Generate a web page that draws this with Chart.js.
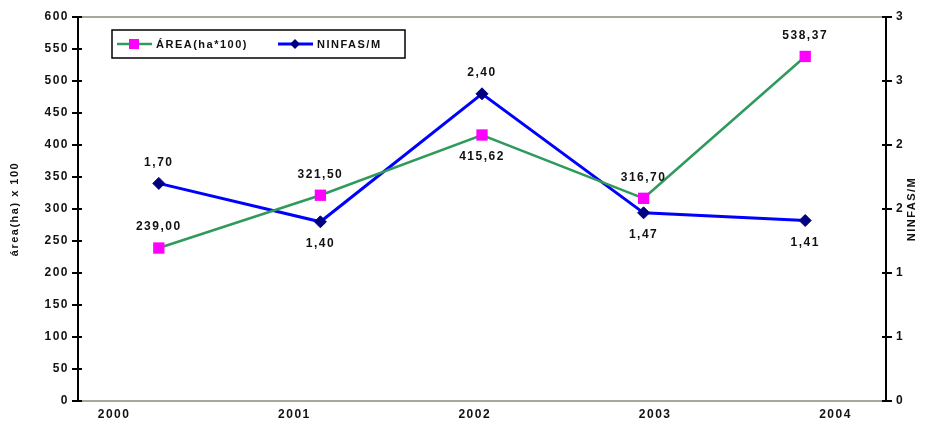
<!DOCTYPE html>
<html>
<head>
<meta charset="utf-8">
<script src="https://cdn.jsdelivr.net/npm/chart.js@4.4.0/dist/chart.umd.min.js"></script>
<style>
  html, body { margin: 0; padding: 0; background: #fff; }
  #wrap { width: 925px; height: 426px; }
</style>
</head>
<body>
<div id="wrap"><canvas id="grafico"></canvas></div>
<script>
const anos = ["2000", "2001", "2002", "2003", "2004"];
const area = [239.0, 321.5, 415.62, 316.7, 538.37];
const ninfas = [1.70, 1.40, 2.40, 1.47, 1.41];
// onde fica o rótulo de cada ponto
const posArea = ["above", "above", "below", "above", "above"];
const posNinfas = ["above", "below", "above", "below", "below"];

const FONTE = "'Liberation Sans', Arial, sans-serif";
const fmt = (v) => v.toFixed(2).replace(".", ",");

const espacamento = {
  id: "espacamento",
  beforeDraw(chart) {
    chart.ctx.letterSpacing = "1.5px";
  },
};

const rotulos = {
  id: "rotulos",
  afterDatasetsDraw(chart) {
    const ctx = chart.ctx;
    ctx.save();
    ctx.font = "bold 12px " + FONTE;
    ctx.fillStyle = "#111";
    ctx.textAlign = "center";
    ctx.textBaseline = "middle";
    chart.data.datasets.forEach((ds, di) => {
      chart.getDatasetMeta(di).data.forEach((pt, i) => {
        const dy = ds.posicoes[i] === "above" ? -21 : 22;
        ctx.fillText(fmt(ds.data[i]), pt.x, pt.y + dy);
      });
    });
    ctx.restore();
  },
};

const extras = {
  id: "extras",
  afterDraw(chart) {
    const ctx = chart.ctx,
      a = chart.chartArea;
    ctx.save();
    // linha de cima da área do gráfico
    ctx.strokeStyle = "#a8a898";
    ctx.lineWidth = 2;
    ctx.beginPath();
    ctx.moveTo(a.left, a.top);
    ctx.lineTo(a.right, a.top);
    ctx.stroke();

    // marcas dos eixos também para dentro
    ctx.strokeStyle = "#000";
    ctx.beginPath();
    chart.scales.y.ticks.forEach((t) => {
      const py = chart.scales.y.getPixelForValue(t.value);
      ctx.moveTo(a.left, py);
      ctx.lineTo(a.left + 4, py);
    });
    chart.scales.y1.ticks.forEach((t) => {
      const py = chart.scales.y1.getPixelForValue(t.value);
      ctx.moveTo(a.right - 4, py);
      ctx.lineTo(a.right, py);
    });
    ctx.stroke();

    // legenda
    const x0 = a.left + 34,
      y0 = a.top + 13,
      w = 293,
      h = 28,
      yc = y0 + h / 2,
      inicios = [5, 166];
    ctx.fillStyle = "#fff";
    ctx.fillRect(x0, y0, w, h);
    ctx.strokeStyle = "#000";
    ctx.lineWidth = 1.5;
    ctx.strokeRect(x0, y0, w, h);
    chart.data.datasets.forEach((ds, i) => {
      const xs = x0 + inicios[i],
        xm = xs + 17;
      ctx.strokeStyle = ds.borderColor;
      ctx.lineWidth = ds.borderWidth;
      ctx.beginPath();
      ctx.moveTo(xs, yc);
      ctx.lineTo(xs + 35, yc);
      ctx.stroke();
      ctx.fillStyle = ds.pointBackgroundColor;
      if (ds.pointStyle === "rect") {
        ctx.fillRect(xm - 5, yc - 5, 10, 10);
      } else {
        ctx.beginPath();
        ctx.moveTo(xm, yc - 5);
        ctx.lineTo(xm + 5, yc);
        ctx.lineTo(xm, yc + 5);
        ctx.lineTo(xm - 5, yc);
        ctx.closePath();
        ctx.fill();
      }
      ctx.fillStyle = "#111";
      ctx.font = "bold 11px " + FONTE;
      ctx.textAlign = "left";
      ctx.textBaseline = "middle";
      ctx.fillText(ds.label, xs + 39, yc + 1);
    });

    // título do eixo da direita
    ctx.translate(912, (a.top + a.bottom) / 2);
    ctx.rotate(-Math.PI / 2);
    ctx.font = "bold 11px " + FONTE;
    ctx.fillStyle = "#111";
    ctx.textAlign = "center";
    ctx.textBaseline = "middle";
    ctx.fillText("NINFAS/M", 0, 0);
    ctx.restore();
  },
};

const fonteEixo = { family: FONTE, size: 12, weight: "bold" };

new Chart(document.getElementById("grafico"), {
  type: "line",
  data: {
    labels: anos,
    datasets: [
      {
        label: "ÁREA(ha*100)",
        data: area,
        posicoes: posArea,
        yAxisID: "y",
        xAxisID: "x",
        borderColor: "#2f9a5c",
        borderWidth: 2.5,
        pointStyle: "rect",
        pointRadius: 8,
        pointBackgroundColor: "#ff00ff",
        pointBorderColor: "#ff00ff",
        pointBorderWidth: 0,
        tension: 0,
      },
      {
        label: "NINFAS/M",
        data: ninfas,
        posicoes: posNinfas,
        yAxisID: "y1",
        xAxisID: "x",
        borderColor: "#0000ff",
        borderWidth: 3,
        pointStyle: "rectRot",
        pointRadius: 6,
        pointBackgroundColor: "#000080",
        pointBorderColor: "#000080",
        pointBorderWidth: 1,
        tension: 0,
      },
    ],
  },
  options: {
    responsive: true,
    maintainAspectRatio: false,
    animation: false,
    layout: { padding: { top: 17, left: 0, right: 0, bottom: 0 } },
    plugins: {
      legend: { display: false },
      tooltip: { enabled: false },
    },
    scales: {
      x: { type: "category", display: false, offset: true },
      xAnos: {
        type: "linear",
        position: "bottom",
        min: -0.2,
        max: 4.28,
        afterBuildTicks: (s) => {
          s.ticks = anos.map((_, i) => ({ value: i }));
        },
        afterFit: (s) => {
          s.height = 25;
        },
        ticks: {
          callback: (v) => anos[v] ?? "",
          font: fonteEixo,
          color: "#111",
          padding: 6,
          maxRotation: 0,
          autoSkip: false,
        },
        grid: { display: false, drawTicks: false },
        border: { display: true, color: "#a8a898", width: 2 },
      },
      y: {
        position: "left",
        min: 0,
        max: 600,
        afterFit: (s) => {
          s.width = 78;
        },
        ticks: { stepSize: 50, font: fonteEixo, color: "#111", padding: 3 },
        grid: { drawOnChartArea: false, tickLength: 6, color: "#000", lineWidth: 2 },
        border: { color: "#000", width: 2 },
        title: {
          display: true,
          text: "área(ha) x 100",
          font: { family: FONTE, size: 11, weight: "bold" },
          color: "#111",
          padding: { top: 8, bottom: 0 },
        },
      },
      y1: {
        position: "right",
        min: 0,
        max: 3,
        afterFit: (s) => {
          s.width = 39;
        },
        ticks: {
          stepSize: 0.5,
          callback: (v) => Math.round(v),
          font: fonteEixo,
          color: "#111",
          padding: 4,
        },
        grid: { drawOnChartArea: false, tickLength: 6, color: "#000", lineWidth: 2 },
        border: { color: "#000", width: 2 },
      },
    },
  },
  plugins: [espacamento, rotulos, extras],
});
</script>
</body>
</html>
